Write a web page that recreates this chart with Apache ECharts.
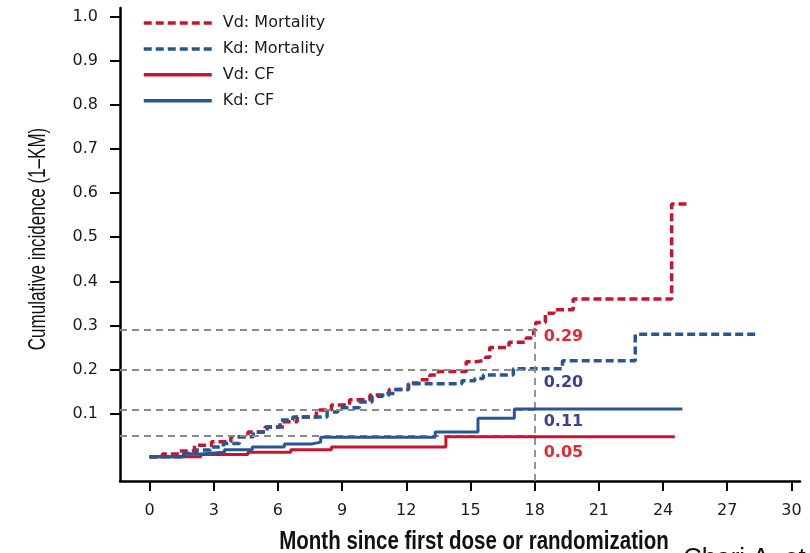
<!DOCTYPE html>
<html><head><meta charset="utf-8">
<script src="https://cdn.jsdelivr.net/npm/echarts@6/dist/echarts.min.js"></script>
<style>html,body{margin:0;padding:0;background:#fff}#c{width:810px;height:553px}</style>
</head><body><div id="c"></div>
<script>
// ---- data ----
const seriesNames = ['Vd: Mortality', 'Kd: Mortality', 'Vd: CF', 'Kd: CF'];
// [month, cumulative incidence after the event at that month]
const vdMortality = [
  [0, 0.003], [0.6, 0.009], [1.4, 0.016], [2.1, 0.029], [2.9, 0.037], [3.8, 0.048],
  [4.6, 0.059], [5.4, 0.070], [6.3, 0.082], [6.9, 0.093], [7.8, 0.109], [8.5, 0.120],
  [9.35, 0.132], [10.3, 0.143], [11.2, 0.155], [12.1, 0.170], [12.6, 0.177], [13.1, 0.188],
  [13.5, 0.196], [14.8, 0.218], [15.3, 0.222], [15.7, 0.228], [15.9, 0.250], [16.8, 0.262],
  [17.6, 0.272], [17.95, 0.290], [18.05, 0.307], [18.5, 0.328], [18.9, 0.336], [19.8, 0.360],
  [24.4, 0.575], [25.2, 0.575]
];
const kdMortality = [
  [0, 0.003], [1.6, 0.010], [2.2, 0.018], [2.85, 0.025], [3.45, 0.033], [4.2, 0.048],
  [4.85, 0.059], [5.5, 0.070], [6.1, 0.086], [6.7, 0.093], [8.3, 0.104], [8.8, 0.114],
  [9.8, 0.127], [10.4, 0.140], [10.9, 0.146], [11.5, 0.155], [12.1, 0.168], [14.6, 0.175],
  [15.2, 0.180], [15.6, 0.188], [17.0, 0.202], [19.3, 0.220], [22.7, 0.280], [28.4, 0.280]
];
const vdCF = [
  [0, 0.003], [2.4, 0.008], [4.6, 0.013], [6.6, 0.019], [8.5, 0.025], [13.85, 0.048], [24.55, 0.048]
];
const kdCF = [
  [0, 0.003], [1.6, 0.009], [2.4, 0.013], [3.5, 0.019], [4.8, 0.025], [6.3, 0.032],
  [7.6, 0.036], [8.0, 0.047], [13.35, 0.059], [15.35, 0.090], [17.05, 0.111], [24.9, 0.111]
];
const xTicks = [0, 3, 6, 9, 12, 15, 18, 21, 24, 27, 30];
const yTicks = [0.1, 0.2, 0.3, 0.4, 0.5, 0.6, 0.7, 0.8, 0.9, 1.0];
const refMonth = 18;
const refValues = [0.29, 0.20, 0.11, 0.05];
const refLabels = ['0.29', '0.20', '0.11', '0.05'];
const xTitle = 'Month since first dose or randomization';
const yTitle = 'Cumulative incidence (1\u2013KM)';
const sourceText = 'Chari A, et al.';

// ---- styling ----
const X_MIN = -1.38, X_MAX = 30.4, Y_MIN = -0.052, Y_MAX = 1.019;
const RED = '#c9142f', BLUE = '#285593';
const RED_LBL = '#e42a33', BLUE_LBL = '#3d4194';
const lineDefs = [
  { data: vdMortality, color: RED, dash: [8, 4], width: 3.5 },
  { data: kdMortality, color: BLUE, dash: [8, 4], width: 3.5 },
  { data: vdCF, color: RED, dash: 'solid', width: 3 },
  { data: kdCF, color: BLUE, dash: 'solid', width: 3 }
];
const annotStyle = [
  { color: RED_LBL, dy: 7 },
  { color: BLUE_LBL, dy: 13 },
  { color: BLUE_LBL, dy: 12 },
  { color: RED_LBL, dy: 17 }
];
const tickFont = { fontFamily: 'DejaVu Sans', fontSize: 16, color: '#1a1a1a' };

const series = lineDefs.map((d, i) => ({
  name: seriesNames[i],
  type: 'line',
  step: 'end',
  symbol: 'none',
  data: d.data,
  itemStyle: { color: d.color },
  lineStyle: { color: d.color, width: d.width, type: d.dash },
  z: 3 + i
}));

const refLines = refValues.map(v => [{ coord: [X_MIN, v] }, { coord: [refMonth, v] }]);
refLines.push([{ coord: [refMonth, refValues[0]] }, { coord: [refMonth, Y_MIN] }]);

series.push({
  name: 'annot',
  type: 'scatter',
  symbolSize: 0,
  itemStyle: { opacity: 1 },
  data: refValues.map((v, i) => ({
    value: [refMonth, v],
    label: {
      show: true,
      position: 'right',
      distance: 9,
      offset: [0, annotStyle[i].dy],
      formatter: refLabels[i],
      color: annotStyle[i].color,
      opacity: 1,
      fontFamily: 'DejaVu Sans',
      fontWeight: 'bold',
      fontSize: 16
    }
  })),
  markLine: {
    silent: true,
    symbol: ['none', 'none'],
    label: { show: false },
    lineStyle: { color: '#8a8a8a', width: 1.8, type: [7, 5] },
    data: refLines
  },
  z: 2
});

const option = {
  animation: false,
  backgroundColor: '#fff',
  grid: { left: 120, right: 10, top: 8, bottom: 72, containLabel: false },
  legend: {
    data: seriesNames,
    orient: 'vertical',
    left: 137,
    top: 10,
    itemWidth: 68,
    itemHeight: 16,
    itemGap: 9.9,
    itemStyle: { opacity: 0 },
    lineStyle: { width: 3.5 },
    textStyle: { fontFamily: 'DejaVu Sans', fontSize: 16, color: '#1a1a1a', padding: [0, 0, 0, 6] },
    selectedMode: false
  },
  xAxis: {
    type: 'value', min: X_MIN, max: X_MAX,
    axisLine: { onZero: false, lineStyle: { color: '#000', width: 2.5 } },
    axisTick: { customValues: xTicks, length: 10, lineStyle: { color: '#000', width: 2 } },
    axisLabel: Object.assign({ customValues: xTicks, margin: 22 }, tickFont),
    splitLine: { show: false }
  },
  yAxis: {
    type: 'value', min: Y_MIN, max: Y_MAX,
    axisLine: { show: true, onZero: false, lineStyle: { color: '#000', width: 2.5 } },
    axisTick: { show: true, customValues: yTicks, length: 10, lineStyle: { color: '#000', width: 2 } },
    axisLabel: Object.assign({ customValues: yTicks, margin: 22, formatter: v => v.toFixed(1) }, tickFont),
    splitLine: { show: false }
  },
  graphic: [
    { type: 'text', x: 38, y: 239, rotation: Math.PI / 2, scaleX: 0.71,
      style: { text: yTitle, fontFamily: 'Liberation Sans', fontSize: 24, fill: '#111', align: 'center', verticalAlign: 'middle' } },
    { type: 'text', x: 474, y: 542, scaleX: 0.82,
      style: { text: xTitle, fontFamily: 'Liberation Sans', fontWeight: 'bold', fontSize: 25, fill: '#111', align: 'center', verticalAlign: 'middle' } },
    { type: 'text', x: 683, y: 546,
      style: { text: sourceText, fontFamily: 'Liberation Sans', fontSize: 26, fill: '#111', align: 'left', verticalAlign: 'top' } }
  ],
  series: series
};

const chart = echarts.init(document.getElementById('c'), null, { renderer: 'canvas' });
chart.setOption(option);
</script>
</body></html>
